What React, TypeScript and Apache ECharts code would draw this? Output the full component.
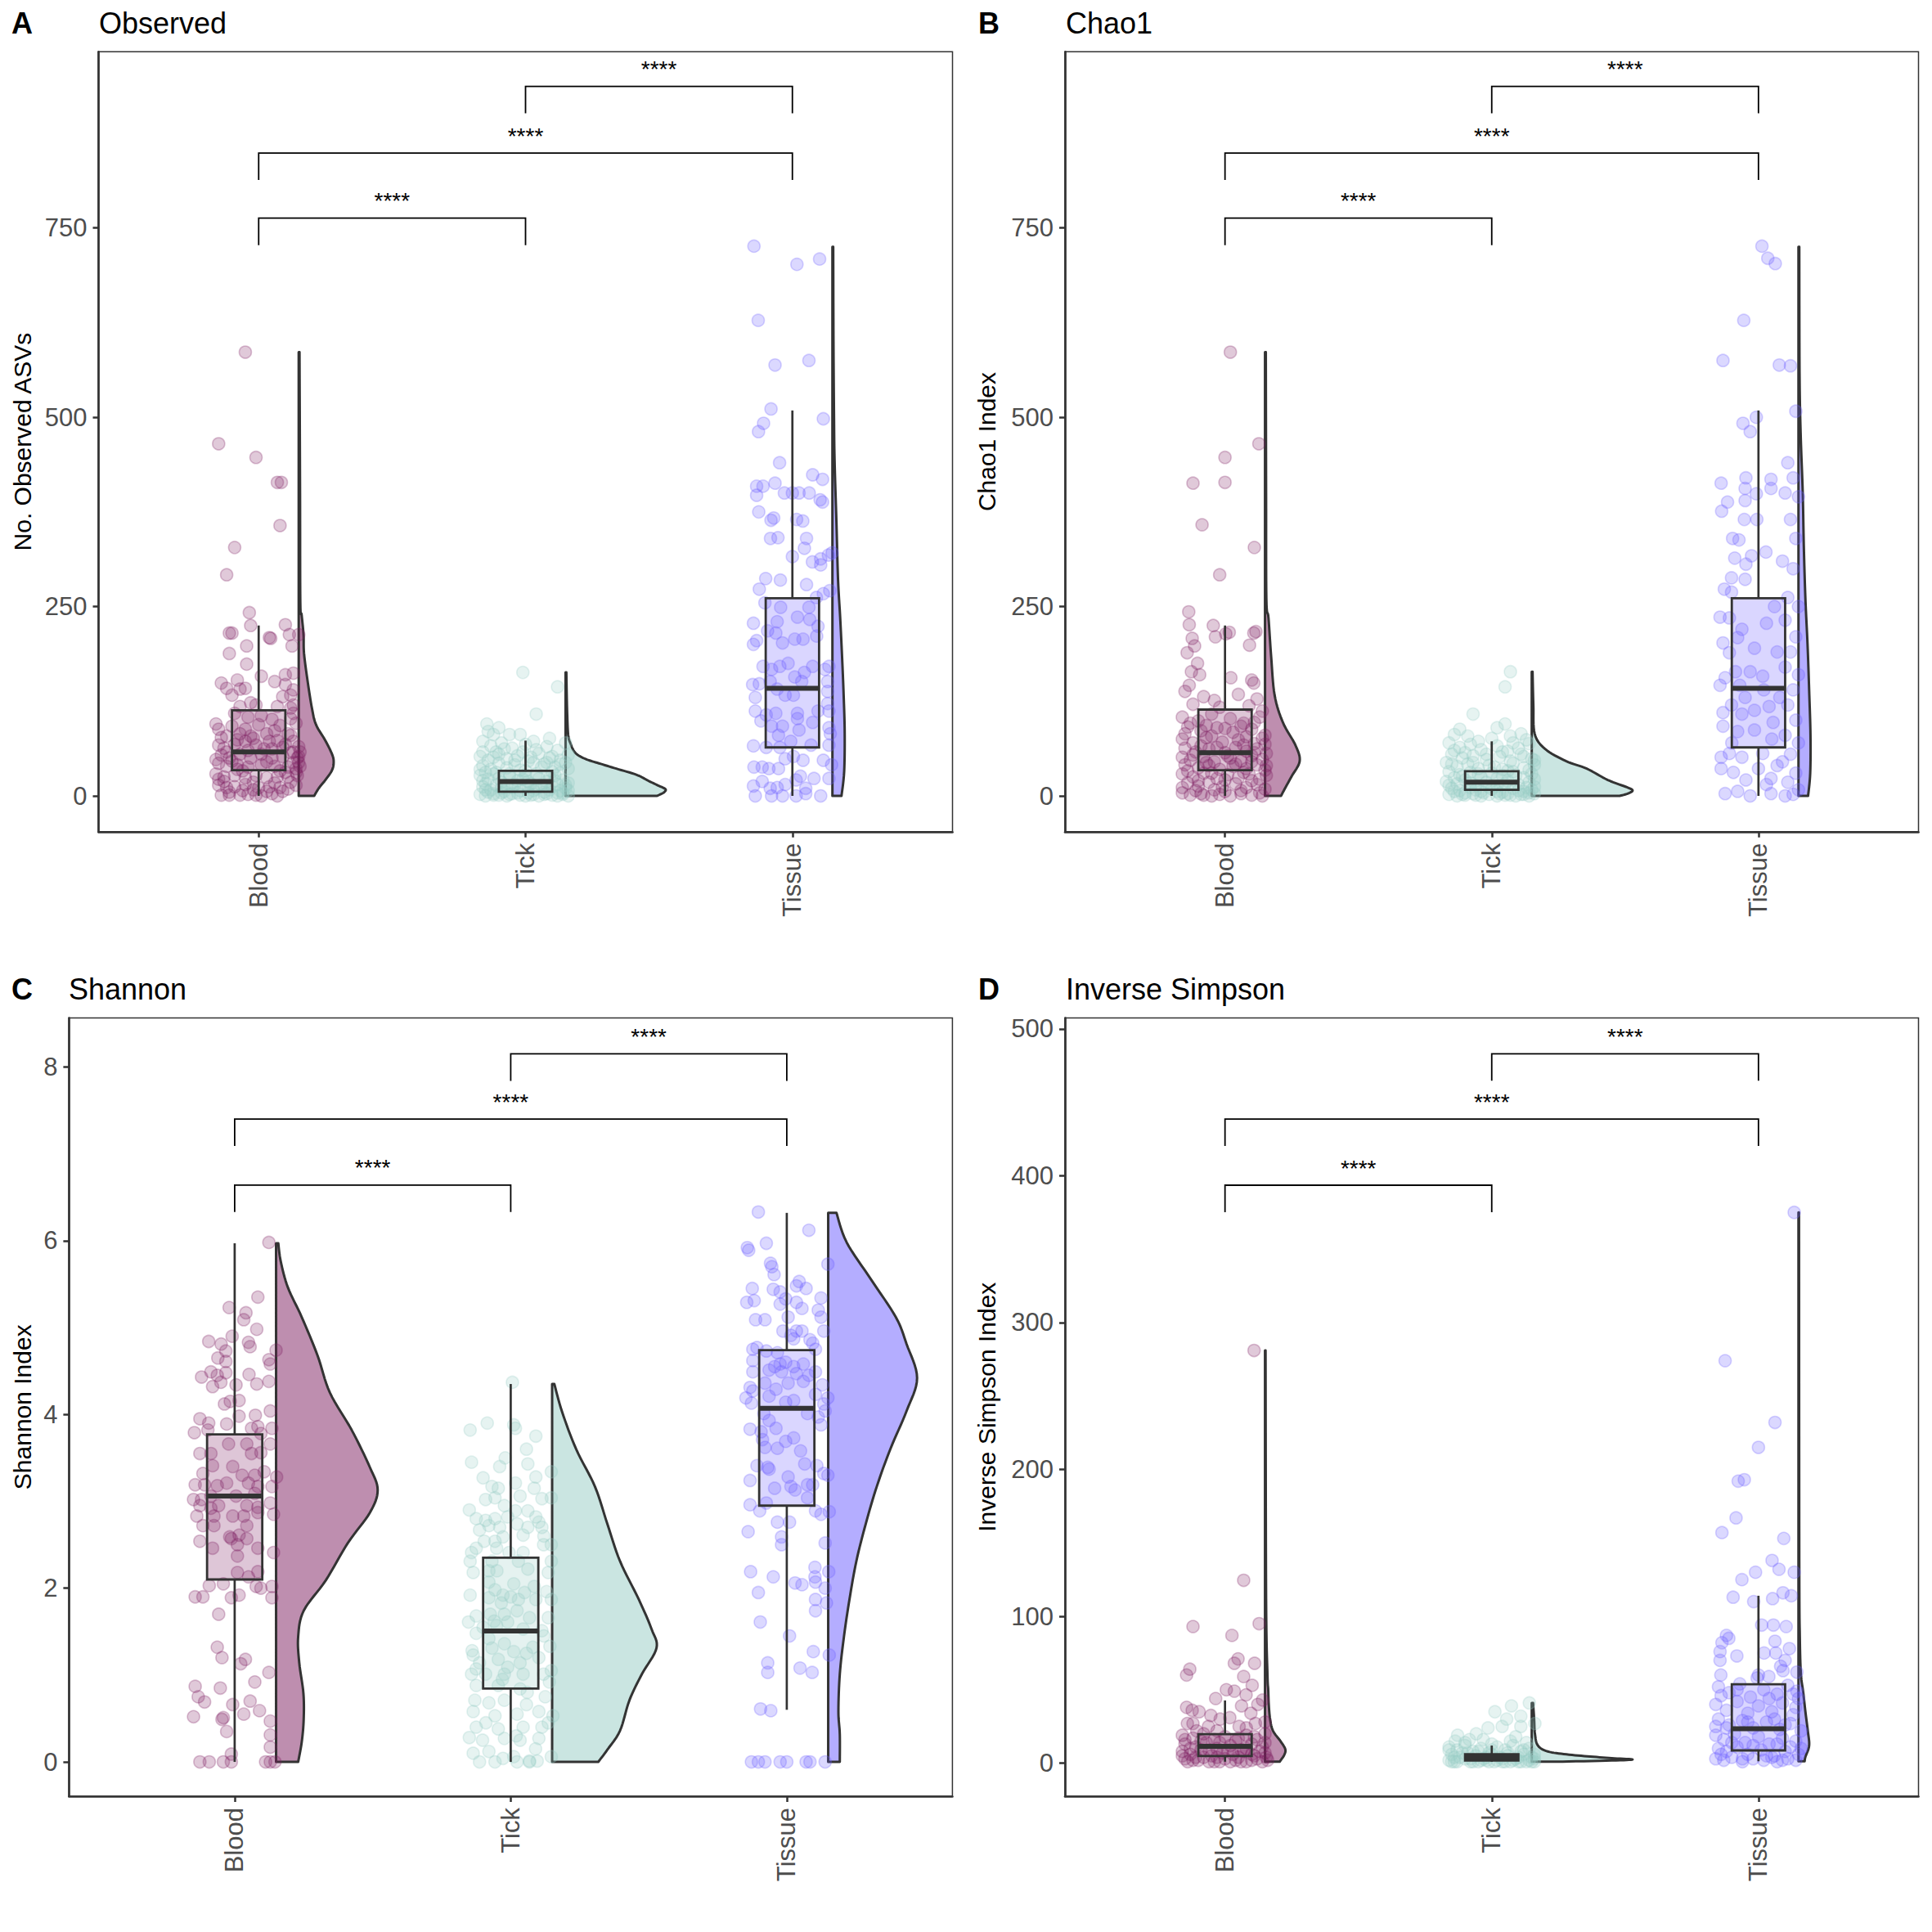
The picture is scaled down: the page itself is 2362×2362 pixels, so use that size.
import React, { useEffect, useRef } from "react";
import * as echarts from "echarts";

const FONT = "'Liberation Sans', Arial, Helvetica, sans-serif";
const CATEGORIES = ["Blood", "Tick", "Tissue"];
const GROUP_COLORS = [[125, 29, 96], [150, 204, 196], [106, 92, 255]];
const SIG = "****";

// ---------- Panel A: Observed ----------
const obsTicks = [0, 250, 500, 750];
const obsBlood = [
[-0.05,586],[-0.15,465],[-0.01,447],[0.07,414],[0.085,414],[0.08,357],[-0.09,328],[-0.12,292],[-0.035,242],[-0.03,225],[-0.11,215],[-0.10,215],[0.04,209],[0.045,208],[0.10,226],[0.115,213],[0.15,213],[0.125,198],[-0.045,198],[-0.11,188],[-0.045,174],
[0.01,158],[0.06,151],[0.10,160],[0.13,162],[-0.14,149],[-0.08,153],[-0.05,142],[-0.07,141],[-0.12,142],[-0.10,133],[0.10,147],[0.13,140],[0.12,133],[0.09,131],
[-0.07,118],[-0.03,123],[-0.01,120],[0.07,118],[0.13,120],[0.12,116],[-0.09,109],[-0.04,104],[0.01,106],[0.05,101],[0.12,102],[0.13,109],
[-0.15,88],[-0.12,79],[-0.07,82],[-0.03,79],[0.03,82],[0.08,93],[0.11,82],
[-0.15,67],[-0.13,63],[-0.09,68],[-0.05,72],[-0.01,67],[0.04,72],[0.07,73],[0.10,68],[0.13,72],[0.15,65],
[-0.14,54],[-0.11,50],[-0.07,55],[-0.03,50],[0.01,55],[0.05,50],[0.09,52],[0.12,57],[0.145,50],
[-0.15,43],[-0.12,39],[-0.08,41],[-0.04,38],[0.01,41],[0.06,39],[0.11,38],[0.14,36],[0.155,39],
[-0.16,29],[-0.13,25],[-0.09,27],[-0.05,24],[-0.01,27],[0.03,24],[0.07,25],[0.11,25],[0.145,27],
[-0.15,14],[-0.12,11],[-0.09,12],[-0.05,15],[0.0,11],[0.04,12],[0.08,11],[0.12,18],
[-0.14,1],[-0.11,1],[-0.07,1],[-0.04,2],[-0.01,1],[0.01,0],[0.05,3],[0.07,0],
[0.14,31],[0.15,44],[0.13,58],[-0.1,46],[-0.06,33],[0.02,62],[-0.13,19],[0.09,6],[-0.02,8],
[-0.16,95],[-0.1,92],[-0.05,88],[0.0,94],[0.06,86],[0.14,96],[-0.14,77],[-0.08,74],[-0.02,76],[0.05,62],[0.09,64],[-0.12,58],[-0.04,60],[0.03,45],[0.08,33],
[-0.08,35],[-0.15,22],[-0.02,18],[0.06,17],[0.1,31],[0.13,44],[0.15,52],[-0.11,5],[-0.06,7],[0.03,6],[0.11,9],[0.14,14],[-0.16,48],[0.12,80],[0.155,58]
];
const obsTick = [
[-0.01,163],[0.12,144],[0.04,108],[-0.145,95],[-0.10,90],[-0.12,81],[-0.06,81],[-0.02,81],
[-0.16,72],[-0.13,66],[-0.09,70],[-0.05,63],[0.0,68],[0.04,61],[0.08,65],[0.12,60],[0.15,70],[-0.11,58],
[-0.17,52],[-0.14,47],[-0.1,55],[-0.07,49],[-0.03,53],[0.01,46],[0.05,56],[0.09,50],[0.13,47],[0.16,54],[-0.01,58],
[-0.16,40],[-0.13,35],[-0.1,43],[-0.07,37],[-0.04,41],[0.0,33],[0.03,44],[0.06,38],[0.1,32],[0.13,42],[0.16,36],[-0.15,31],[0.08,44],
[-0.17,27],[-0.14,22],[-0.12,29],[-0.09,18],[-0.06,25],[-0.03,20],[0.0,28],[0.02,16],[0.05,23],[0.08,19],[0.11,27],[0.14,21],[0.16,17],[-0.15,16],[0.12,15],[-0.01,22],
[-0.16,12],[-0.13,8],[-0.11,14],[-0.08,6],[-0.05,11],[-0.02,7],[0.01,13],[0.04,9],[0.07,5],[0.1,12],[0.13,7],[0.15,10],[-0.14,5],[0.06,14],[-0.07,13],
[-0.17,2],[-0.15,0],[-0.12,3],[-0.1,1],[-0.07,0],[-0.05,3],[-0.02,1],[0.0,0],[0.03,2],[0.05,0],[0.08,3],[0.1,1],[0.12,0],[0.14,2],[0.16,0],[-0.09,4],[0.01,4],
[-0.16,58],[-0.12,51],[-0.04,47],[0.02,51],[0.07,42],[0.11,38],[0.15,44],[-0.17,35],[-0.11,31],[-0.06,29],[-0.02,34],[0.04,29],[0.09,24],[0.13,30],
[-0.16,20],[-0.1,23],[-0.04,15],[0.01,19],[0.07,13],[0.11,20],[0.15,14],[-0.15,8],[-0.09,10],[-0.03,4],[0.03,7],[0.09,8],[0.14,4],
[-0.12,1],[-0.06,2],[0.02,1],[0.07,2],[0.12,4],[0.16,7],[0.1,52],[-0.08,62],[0.03,72],[0.09,76],[-0.14,85]
];
const obsTissue = [
[-0.144,726],[0.017,702],[0.102,709],[-0.128,628],[-0.065,569],[0.062,575],[-0.08,511],[-0.108,492],[-0.127,481],[0.116,498],
[-0.048,440],[0.076,424],[0.113,418],[-0.134,409],[-0.11,409],[-0.134,397],[-0.065,413],[-0.03,400],[0.025,400],[0.063,400],[0,400],
[0.104,391],[0.113,388],[-0.126,375],[-0.08,364],[-0.07,367],[0.016,365],[0.039,363],[-0.082,340],[-0.054,341],[0.053,340],[0.045,327],[0,316],
[0.075,309],[0.106,313],[0.135,318],[0.149,321],[0.106,305],[-0.1,287],[-0.045,285],[0.053,279],[-0.124,273],[-0.103,255],[0.09,262],[0.116,267],[0.14,271],
[-0.044,249],[0.062,249],[-0.146,228],[-0.093,218],[-0.057,230],[0.019,236],[0.065,233],[0.096,224],[-0.146,200],[-0.134,205],
[-0.062,215],[-0.037,202],[0.009,207],[0.04,207],[0.091,211],
[-0.11,171],[-0.078,167],[-0.047,171],[-0.016,175],[0.009,157],[0.045,163],[0.076,171],[0.122,167],[0.137,171],
[-0.149,147],[-0.124,148],[-0.083,151],[-0.057,141],[-0.027,133],[0.004,133],[0.035,151],[0.132,151],[0.132,138],
[-0.139,130],[-0.139,112],[-0.098,107],[-0.062,109],[0.019,109],[0.019,102],[0.096,112],[0.137,112],[0.132,122],
[-0.118,99],[-0.078,92],[-0.052,80],[-0.037,92],[0.025,87],[0.076,97],[0.137,90],[0.142,82],
[-0.146,66],[-0.098,64],[-0.047,64],[-0.006,72],[0.07,67],[0.137,67],
[-0.144,38],[-0.113,38],[-0.088,36],[-0.052,36],[-0.027,49],[0.004,52],[0.04,47],[0.116,47],[0.147,41],
[-0.146,13],[-0.113,19],[-0.083,10],[-0.057,11],[-0.027,15],[0.014,21],[0.03,26],[0.05,10],[0.081,23],[0.137,23],
[-0.139,0],[-0.078,0],[-0.037,0],[0.014,0],[0.05,3],[0.106,0]
];
// box rows: [lower whisker, Q1, median, Q3, upper whisker]
const obsBox = [[0, 34, 58, 113, 225], [0, 5.5, 19, 33, 73], [0, 64, 142, 261, 509]];
// violin rows: [value, half-width in category units]
const obsViolin = [
  [[586,0.003],[400,0.005],[256,0.006],[239,0.011],[213,0.018],[188,0.02],[150,0.034],[115,0.05],[94,0.065],[73,0.1],[55,0.125],[45,0.131],[34,0.125],[21,0.1],[10,0.075],[0,0.058]],
  [[163,0.003],[140,0.004],[110,0.006],[80,0.01],[68,0.02],[60,0.03],[54,0.046],[48,0.08],[43,0.125],[36,0.19],[28,0.265],[20,0.31],[14,0.345],[9,0.374],[5,0.37],[2,0.355],[0,0.343]],
  [[725,0.003],[600,0.004],[500,0.006],[444,0.008],[362,0.015],[286,0.021],[236,0.029],[185,0.036],[134,0.042],[83,0.046],[32,0.044],[0,0.034]]
];
const obsBrackets = [[2, 3, 937], [1, 3, 849], [1, 2, 763]];

// ---------- Panel B: Chao1 ----------
const chaoTicks = [0, 250, 500, 750];
const chaoBlood = [
[0.02,586],[0.127,465],[0.0,447],[0.0,414],[-0.12,413],[-0.086,358],[0.11,328],[-0.02,292],[-0.136,243],[-0.134,226],[-0.044,225],[0.003,214],[0.016,216],[0.108,215],[0.116,217],[-0.036,210],[-0.123,208],[-0.142,189],[-0.114,198],[0.092,199],[-0.103,175],[-0.126,164],[-0.095,160],[-0.134,146],[0.022,156],[0.10,153],[0.108,149],
[-0.15,138],[-0.08,131],[-0.04,126],[0.05,134],[0.12,128],[-0.12,121],[-0.02,117],[0.09,119],[0.14,112],
[-0.16,104],[-0.1,99],[-0.05,108],[0.02,102],[0.07,96],[0.13,104],
[-0.14,91],[-0.09,86],[-0.03,90],[0.03,84],[0.1,88],[0.15,80],
[-0.16,75],[-0.12,70],[-0.07,77],[-0.01,71],[0.05,74],[0.11,69],[0.14,76],
[-0.15,63],[-0.11,58],[-0.06,62],[0.0,57],[0.04,64],[0.08,59],[0.12,62],[0.155,56],
[-0.16,51],[-0.13,47],[-0.08,52],[-0.04,45],[0.02,50],[0.06,46],[0.1,53],[0.14,48],
[-0.15,41],[-0.1,37],[-0.06,40],[-0.02,35],[0.03,39],[0.08,36],[0.12,41],[0.15,34],
[-0.16,29],[-0.12,25],[-0.08,30],[-0.03,23],[0.01,28],[0.05,24],[0.09,29],[0.13,22],[0.155,27],
[-0.14,17],[-0.1,13],[-0.06,18],[-0.01,12],[0.04,16],[0.08,11],[0.12,15],[0.15,9],
[-0.16,4],[-0.13,1],[-0.09,3],[-0.05,0],[-0.02,2],[0.02,0],[0.06,3],[0.1,1],[0.14,0],[-0.11,7],[0.0,6],
[-0.13,96],[-0.07,93],[0.0,89],[0.06,92],[0.11,97],[-0.15,82],[-0.05,79],[0.08,78],[-0.09,66],[-0.03,64],[0.07,67],[0.15,68],[-0.12,54],[0.01,53],[0.11,57],
[-0.07,44],[0.04,42],[0.1,45],[0.155,40],[-0.14,33],[-0.05,30],[0.07,31],[-0.1,20],[0.0,21],[0.1,20],[-0.16,11],[-0.04,8],[0.06,7],[0.13,4],[-0.08,1]
];
const chaoTick = [
[0.07,164],[0.05,144],[-0.07,108],[0.02,90],[0.05,95],[-0.14,81],[-0.09,79],[0.07,79],[0.11,82],[0.0,76],[-0.12,88],[0.13,74],
[-0.16,70],[-0.12,64],[-0.08,68],[-0.04,61],[0.02,66],[0.06,59],[0.1,63],[0.14,69],
[-0.15,55],[-0.11,50],[-0.07,53],[-0.02,48],[0.03,52],[0.07,46],[0.11,55],[0.15,49],
[-0.17,44],[-0.13,39],[-0.09,42],[-0.05,36],[-0.01,40],[0.04,35],[0.08,43],[0.12,37],[0.16,41],
[-0.16,32],[-0.12,28],[-0.08,31],[-0.04,25],[0.0,30],[0.04,27],[0.08,32],[0.12,24],[0.15,29],[-0.14,24],
[-0.17,19],[-0.13,16],[-0.1,21],[-0.06,14],[-0.02,18],[0.02,13],[0.06,20],[0.1,15],[0.14,18],[0.16,12],
[-0.15,10],[-0.12,7],[-0.08,11],[-0.04,6],[0.0,9],[0.04,5],[0.08,10],[0.12,6],[0.15,8],[-0.1,4],[0.06,3],
[-0.16,2],[-0.13,0],[-0.1,1],[-0.07,3],[-0.04,0],[-0.01,2],[0.02,0],[0.05,1],[0.09,0],[0.11,2],[0.14,0],[0.16,3],[-0.06,1],[0.03,3],
[-0.14,60],[-0.1,57],[-0.02,55],[0.04,58],[0.12,52],[0.16,47],[-0.15,42],[-0.07,44],[0.01,38],[0.06,33],[0.14,34],
[-0.11,26],[-0.05,29],[0.02,23],[0.09,27],[0.16,22],[-0.16,14],[-0.08,17],[-0.01,12],[0.05,16],[0.13,11],
[-0.14,6],[-0.06,8],[0.02,6],[0.1,7],[0.14,4],[-0.11,2],[-0.03,4],[0.07,1],[0.12,2],[0.08,70],[-0.05,72]
];
const chaoTissue = [
[0.013,726],[0.035,710],[0.063,703],[-0.055,628],[-0.133,575],[0.078,569],[-0.058,492],[-0.031,481],[-0.008,500],[-0.14,413],
[-0.116,388],[-0.138,376],[-0.047,420],[-0.05,406],[-0.008,399],[-0.05,390],[0.047,406],[0.047,418],[-0.053,365],[-0.006,365],
[-0.097,340],[-0.073,338],[-0.089,314],[-0.047,306],[0.028,322],[-0.026,317],[-0.101,288],[-0.05,286],[-0.128,273],[-0.101,269],
[-0.144,236],[-0.109,235],[-0.062,220],[-0.015,195],[-0.078,209],[-0.133,202],[-0.109,189],[-0.144,146],[-0.125,156],
[-0.086,164],[-0.031,164],[-0.07,146],[0.016,158],[-0.133,110],[-0.101,120],[-0.062,108],[-0.015,113],[0.04,118],
[-0.133,92],[-0.078,85],[-0.015,87],[0.055,97],[-0.14,51],[-0.109,56],[-0.062,51],[0.016,56],
[-0.14,36],[-0.094,31],[-0.047,21],[0,36],[0.047,23],[-0.125,3],[-0.078,6],[-0.031,0],[0.047,3],
[0.12,568],[0.14,508],[0.11,440],[0.13,420],[0.1,400],[0.15,395],[0.12,365],[0.14,340],[0.09,310],[0.13,300],[0.11,262],[0.15,250],
[0.1,232],[0.14,210],[0.12,190],[0.1,170],[0.15,160],[0.13,140],[0.11,120],[0.14,100],[0.1,80],[0.15,70],[0.12,55],[0.09,45],[0.14,30],[0.11,18],[0.15,8],[0.1,0],[0.13,2],
[0.06,250],[0.03,228],[0.07,190],[0.02,140],[0.08,130],[0.05,75],[0.07,40],[0.03,15],[-0.1,70],[-0.05,130]
];
const chaoBox = [[0, 34, 57, 114, 225], [0, 8, 18, 32.5, 72], [0, 64, 142, 261, 509]];
const chaoViolin = [
  [[586,0.003],[400,0.004],[260,0.005],[235,0.013],[184,0.023],[133,0.036],[97,0.067],[67,0.114],[46,0.13],[26,0.1],[10,0.075],[0,0.06]],
  [[164,0.003],[120,0.006],[82,0.011],[62,0.05],[46,0.128],[36,0.206],[21,0.285],[11,0.36],[7,0.378],[3,0.36],[0,0.33]],
  [[725,0.003],[560,0.004],[480,0.008],[400,0.016],[330,0.02],[260,0.026],[200,0.034],[140,0.04],[80,0.045],[30,0.044],[0,0.036]]
];
const chaoBrackets = [[2, 3, 937], [1, 3, 849], [1, 2, 763]];

// ---------- Panel C: Shannon ----------
const shanTicks = [0, 2, 4, 6, 8];
const shanBlood = [
[0.124,5.98],[0.084,5.35],[-0.02,5.23],[0.041,5.17],[0.033,5.09],[0.08,4.98],[-0.009,4.90],[-0.094,4.84],[-0.049,4.81],[0.05,4.83],[0.056,4.78],
[-0.032,4.73],[-0.061,4.65],[-0.032,4.61],[0.124,4.63],[0.129,4.58],[0.15,4.74],[-0.12,4.43],[-0.086,4.49],[-0.063,4.45],[-0.032,4.48],
[-0.08,4.32],[-0.05,4.37],[0.052,4.46],[0.08,4.35],[0.124,4.38],[0.005,4.34],[-0.037,4.12],[-0.016,4.15],[0.016,4.16],[0.129,4.04],[0.075,3.99],
[-0.126,3.95],[-0.094,3.90],[-0.029,3.89],[0.016,3.98],[-0.146,3.79],[-0.097,3.82],[0.061,3.84],[0.084,3.86],[0.135,3.84],[0.095,3.78],
[-0.022,3.66],[0.044,3.66],[0.129,3.66],[-0.126,3.55],[-0.086,3.55],[0.061,3.55],[0.095,3.56],
[-0.115,3.32],[-0.08,3.41],[-0.007,3.40],[0.027,3.30],[0.073,3.30],[0.107,3.34],[0.152,3.28],
[-0.143,3.19],[-0.109,3.19],[-0.063,3.18],[-0.029,3.21],[0.05,3.21],[0.084,3.17],[0.135,3.17],
[-0.149,3.02],[-0.12,3.02],[-0.086,3.06],[0.005,3.06],[0.073,3.09],[0.129,2.98],
[-0.126,2.95],[-0.086,2.92],[-0.058,2.95],[0.044,2.95],[0.084,2.93],
[-0.137,2.83],[-0.075,2.83],[-0.007,2.83],[0.033,2.83],[0.084,2.87],[0.141,2.85],
[-0.115,2.72],[-0.075,2.72],[0.044,2.72],[-0.018,2.59],[-0.012,2.57],[0.016,2.61],[0.044,2.57],
[-0.126,2.54],[-0.08,2.46],[0.01,2.50],[0.084,2.46],[0.01,2.37],[0.141,2.41],
[0.01,2.18],[0.084,2.19],[0.05,2.13],[-0.092,2.03],[-0.041,2.05],[0.078,2.02],[0.095,2.0],[0.135,2.02],[0.135,1.89],
[-0.143,1.90],[-0.115,1.90],[-0.012,1.89],[0.016,1.92],[-0.058,1.70],
[-0.063,1.32],[-0.046,1.20],[0.039,1.18],[0.022,1.13],[0.124,1.03],[0.073,0.92],
[-0.143,0.87],[-0.132,0.75],[-0.052,0.85],[-0.109,0.69],[0.056,0.70],[-0.007,0.66],
[-0.046,0.49],[-0.041,0.51],[0.033,0.55],[0.09,0.59],[-0.149,0.52],[0.129,0.47],
[-0.029,0.35],[0.129,0.31],[0.129,0.17],[-0.012,0.09],
[-0.126,0],[-0.092,0],[-0.041,0],[-0.012,0],[0.112,0],[0.129,0],[0.146,0]
];
const shanTick = [
[0.006,4.37],[-0.085,3.90],[0.011,3.88],[0.017,3.84],[0.091,3.75],[-0.147,3.82],[0.057,3.60],[-0.142,3.45],[-0.04,3.40],[0.062,3.43],
[-0.1,3.27],[0.091,3.28],[0.147,3.34],[-0.068,3.17],[-0.045,3.15],[0.017,3.21],[0.085,3.15],[-0.091,3.02],[-0.057,3.04],[0.034,3.06],[0.113,3.03],
[-0.023,2.95],[0.017,2.89],[0.062,2.89],[0.147,3.04],[-0.125,2.80],[-0.091,2.78],[-0.057,2.80],[-0.011,2.82],[0.091,2.82],[0.102,2.76],
[-0.113,2.67],[-0.079,2.72],[-0.04,2.70],[0.023,2.74],[0.062,2.70],[0.113,2.70],[-0.096,2.54],[-0.057,2.54],[-0.028,2.59],[0.045,2.61],[0.119,2.50],[0.147,2.50],
[-0.142,2.41],[-0.125,2.46],[-0.051,2.46],[-0.006,2.41],[0.045,2.41],[-0.147,2.31],[-0.136,2.18],[-0.068,2.31],[0.028,2.31],[0.147,2.31],
[-0.079,2.20],[0.062,2.22],[0.136,2.18],[-0.079,2.07],[-0.057,1.98],[-0.028,1.92],[0.011,2.05],[0.085,2.02],[0.13,1.96],
[-0.147,1.92],[-0.079,1.89],[-0.034,1.83],[0.028,1.87],[0.091,1.87],[0.147,1.87],
[-0.125,1.68],[-0.074,1.70],[-0.023,1.70],[0.023,1.74],[0.068,1.66],[0.136,1.66],
[-0.153,1.61],[-0.125,1.48],[-0.051,1.57],[-0.011,1.61],[0.045,1.53],[0.113,1.51],
[-0.079,1.42],[-0.068,1.31],[-0.023,1.36],[0.011,1.27],[0.057,1.25],[0.142,1.33],
[-0.136,1.23],[-0.113,1.14],[-0.045,1.18],[-0.011,1.09],[0.034,1.14],[0.102,1.20],
[-0.142,1.01],[-0.125,1.07],[-0.091,1.01],[-0.023,1.01],[0.045,1.01],[0.119,1.01],[0.147,1.05],
[-0.125,0.88],[-0.045,0.88],[0.034,0.84],[-0.13,0.71],[-0.079,0.68],[-0.023,0.71],[0.057,0.66],[0.125,0.75],
[-0.136,0.58],[-0.057,0.53],[0.023,0.55],[0.102,0.58],[0.153,0.53],
[-0.125,0.40],[-0.045,0.38],[0.045,0.40],[0.113,0.40],[0.136,0.45],
[-0.102,0.25],[-0.023,0.27],[0.034,0.25],[0.102,0.27],
[-0.136,0.10],[-0.079,0.12],[-0.028,0.04],[0.011,0.06],[0.068,0.01],[0.096,0.01],[0.147,0.06],
[-0.057,0],[0.023,0],[0.068,0],[-0.113,0],
[-0.15,2.9],[-0.05,2.2],[0.05,1.95],[0.12,1.45],[-0.1,1.55],[0.0,1.9],[-0.06,1.62],[0.08,1.32],[-0.14,1.28],[0.14,0.92],
[-0.03,0.95],[0.06,0.8],[-0.09,0.45],[0.02,0.3],[0.09,0.15],[-0.15,0.28],[0.12,2.6],[-0.02,3.5]
];
const shanTissue = [
[-0.103,6.33],[0.08,6.12],[-0.074,5.97],[-0.143,5.92],[-0.138,5.89],[0.149,5.73],[-0.059,5.74],[-0.054,5.70],[-0.046,5.61],
[-0.125,5.45],[-0.049,5.44],[-0.024,5.41],[0.035,5.48],[0.045,5.53],[0.07,5.45],
[-0.145,5.29],[-0.118,5.31],[-0.024,5.27],[-0.004,5.33],[0.035,5.29],[0.055,5.22],[0.124,5.34],
[-0.113,5.09],[-0.079,5.09],[0.005,5.12],[0.114,5.20],[0.124,5.12],
[-0.014,4.96],[0.035,4.96],[0.055,4.96],[0.134,4.96],[0.015,4.91],[0.025,4.87],[0.084,4.86],[0.094,4.82],
[-0.123,4.75],[-0.108,4.77],[-0.074,4.73],[-0.034,4.71],[0.104,4.75],
[-0.123,4.62],[-0.044,4.55],[-0.024,4.58],[-0.004,4.60],[0.025,4.55],[0.06,4.58],
[-0.123,4.49],[-0.064,4.51],[-0.019,4.49],[0.035,4.47],[0.08,4.45],[0.104,4.49],
[-0.133,4.31],[-0.123,4.27],[-0.079,4.36],[-0.039,4.29],[0.005,4.36],[0.06,4.38],[0.129,4.34],
[-0.148,4.19],[-0.128,4.13],[-0.064,4.21],[-0.004,4.14],[0.025,4.16],[0.104,4.23],[0.149,4.19],[0.134,4.12],
[-0.083,4.01],[-0.064,3.93],[-0.039,3.84],[0.075,4.01],[0.114,3.97],[0.139,4.04],[0.124,3.88],
[-0.133,3.83],[-0.093,3.80],[-0.004,3.69],[0.025,3.73],[-0.034,3.61],[-0.088,3.71],[-0.079,3.62],
[0.05,3.58],[0.065,3.43],[-0.108,3.41],[-0.069,3.39],[-0.064,3.37],[0.109,3.41],[0.134,3.32],[0.149,3.30],
[-0.133,3.24],[0.005,3.28],[0.015,3.17],[0.03,3.13],[0.075,3.19],[0.094,3.19],[-0.044,3.15],
[-0.133,2.96],[-0.098,2.89],[-0.074,2.98],[0.075,3.04],[0.104,2.89],[0.124,2.85],[0.154,2.88],
[-0.034,2.76],[0.01,2.76],[-0.14,2.65],[-0.019,2.59],[-0.019,2.50],[0.139,2.52],
[0.102,2.24],[0.102,2.13],[0.104,2.07],[0.139,2.0],[0.104,1.87],[0.104,1.74],[0.144,1.83],
[-0.131,2.19],[-0.049,2.13],[0.03,2.06],[0.055,2.04],[0.152,2.19],[-0.103,1.95],[-0.096,1.61],[0.01,1.45],
[0.096,1.27],[0.154,1.23],[-0.069,1.14],[-0.069,1.03],[0.048,1.08],[0.092,1.03],[-0.095,0.61],[-0.058,0.59],
[-0.128,0],[-0.103,0],[-0.079,0],[-0.024,0],[0,0],[0.07,0],[0.084,0],[0.139,0]
];
const shanBox = [[0, 2.10, 3.06, 3.77, 5.97], [0, 0.845, 1.506, 2.35, 4.35], [0.60, 2.95, 4.07, 4.74, 6.32]];
const shanViolin = [
  [[5.97,0.008],[5.76,0.017],[5.46,0.043],[5.12,0.093],[4.68,0.15],[4.25,0.195],[3.82,0.274],[3.39,0.34],[3.13,0.368],[2.87,0.34],[2.52,0.26],[2.09,0.18],[1.74,0.1],[1.44,0.08],[1.14,0.084],[0.79,0.099],[0.49,0.1],[0.23,0.093],[0,0.08]],
  [[4.35,0.008],[4.03,0.036],[3.6,0.087],[3.17,0.155],[2.74,0.2],[2.31,0.246],[1.87,0.314],[1.53,0.36],[1.31,0.378],[1.01,0.325],[0.71,0.28],[0.36,0.246],[0.14,0.2],[0,0.167]],
  [[6.32,0.03],[5.98,0.067],[5.55,0.156],[5.12,0.245],[4.81,0.284],[4.42,0.322],[4.04,0.284],[3.6,0.225],[3.17,0.176],[2.74,0.136],[2.31,0.102],[1.87,0.077],[1.44,0.057],[1.01,0.042],[0.58,0.037],[0.32,0.042],[0,0.042]]
];
const shanBrackets = [[2, 3, 8.15], [1, 3, 7.4], [1, 2, 6.64]];

// ---------- Panel D: Inverse Simpson ----------
const invTicks = [0, 100, 200, 300, 400, 500];
const invBlood = [
[0.109,281],[0.07,124.5],[-0.12,93],[0.128,95],[0.026,87],[0.049,71],[0.035,68],[0.111,68],[-0.132,64],[-0.144,60],[0.07,59],[0.102,53],
[0.005,50],[0.035,49],[-0.035,44],[0.079,46.5],[0.141,43],[0.123,40],[-0.144,38],[-0.123,36],[-0.097,35],[-0.053,32.5],[-0.018,30],
[0.053,25],[0.062,39],[0.097,34],[0.114,27],[-0.141,27],[-0.106,22],[-0.062,25],[0.018,31],
[-0.16,19],[-0.12,17],[-0.08,20],[-0.04,16],[0.0,18],[0.04,15],[0.08,19],[0.12,16],[0.15,20],
[-0.15,13],[-0.11,11],[-0.07,14],[-0.03,10],[0.02,12],[0.06,9],[0.1,13],[0.14,11],
[-0.16,8],[-0.13,6],[-0.09,9],[-0.05,5],[-0.01,7],[0.03,6],[0.07,8],[0.11,5],[0.15,7],
[-0.15,3],[-0.12,2],[-0.08,4],[-0.04,1],[0.0,3],[0.04,2],[0.08,1],[0.12,3],[0.16,2],
[-0.14,1],[-0.1,2],[-0.06,1],[-0.02,1],[0.02,1],[0.06,1],[0.1,2],[0.14,1],
[-0.15,16],[-0.09,15],[-0.02,14],[0.05,17],[0.11,18],[0.15,14],[-0.13,10],[-0.06,9],[0.01,9],[0.08,10],[0.13,8],
[-0.16,5],[-0.11,4],[-0.03,4],[0.05,4],[0.1,6],[0.155,4],[-0.12,27],[-0.03,22],[0.08,24],[0.15,28]
];
const invTick = [
[0.141,41],[0.012,35],[-0.128,19],[0.074,39],[0.109,32],[0.056,30],[0.109,25],[0.09,18],[0.039,25],[-0.014,24],[-0.058,20],[-0.084,16],[-0.032,16],[-0.137,15],[0.162,27],
[-0.16,11],[-0.13,9],[-0.1,12],[-0.07,8],[-0.04,10],[-0.01,7],[0.02,11],[0.05,9],[0.08,12],[0.11,8],[0.14,10],[0.16,6],
[-0.15,6],[-0.12,4],[-0.09,7],[-0.06,5],[-0.03,3],[0.0,6],[0.03,4],[0.06,5],[0.09,3],[0.12,6],[0.15,4],
[-0.16,2],[-0.13,1],[-0.1,3],[-0.07,1],[-0.04,2],[-0.01,1],[0.02,2],[0.05,1],[0.08,2],[0.11,1],[0.14,2],[0.16,1],
[-0.14,1],[-0.08,1],[-0.02,2],[0.04,1],[0.1,1],[0.13,1],
[-0.16,9],[-0.11,7],[-0.05,8],[0.0,9],[0.06,7],[0.12,9],[-0.14,4],[-0.08,3],[-0.02,4],[0.04,3],[0.1,4],[0.16,3],
[-0.15,1],[-0.05,1],[0.01,1],[0.07,1],[0.15,1],[-0.1,14],[0.0,13],[0.07,15],[0.13,14]
];
const invTissue = [
[0.134,375],[-0.125,274],[0.062,232],[0.0,215],[-0.076,192],[-0.053,193],[-0.084,167],[-0.137,157],[0.095,153],[0.051,138],[0.077,132],
[-0.011,130],[-0.062,125],[0.134,130],[-0.095,113],[-0.018,110],[0.053,112],[0.092,116],[0.123,114],[0.012,94],[0.056,94],[0.104,93],
[-0.12,87],[-0.111,85],[-0.137,82],[-0.144,76],[-0.144,70],[-0.081,73],[0.062,83],[0.116,78],[0.021,75],[0.065,75],
[-0.141,60],[0.083,66],[0.092,63],[0.144,62],[0.039,59],[-0.005,58],[0.144,49],
[-0.15,52],[-0.11,48],[-0.07,54],[-0.03,45],[0.02,50],[0.07,47],[0.11,53],[0.15,44],
[-0.16,40],[-0.12,36],[-0.08,42],[-0.04,34],[0.0,39],[0.05,35],[0.09,41],[0.13,33],
[-0.15,30],[-0.11,26],[-0.06,29],[-0.02,24],[0.03,28],[0.08,23],[0.12,27],[0.16,22],
[-0.16,19],[-0.13,16],[-0.09,20],[-0.05,14],[0.0,18],[0.04,13],[0.09,17],[0.14,15],
[-0.15,10],[-0.12,8],[-0.08,11],[-0.04,6],[0.01,9],[0.06,5],[0.1,8],[0.15,6],
[-0.16,3],[-0.13,2],[-0.1,4],[-0.06,1],[-0.02,3],[0.02,2],[0.07,1],[0.11,3],[0.14,2],[0.05,4],
[-0.14,46],[-0.08,50],[0.04,44],[0.13,47],[-0.12,24],[-0.04,28],[0.06,30],[0.1,26],[-0.1,14],[-0.02,12],[0.07,13],
[0.12,11],[-0.14,6],[-0.06,3],[0.03,5],[0.09,2],[0.16,10],[-0.16,25],[0.14,38],[0.0,60],[0.1,70]
];
const invBox = [[1, 4.9, 11.5, 19.7, 42.7], [1, 1.8, 3.8, 6.1, 12], [1.3, 8.7, 23.5, 53.7, 114]];
const invViolin = [
  [[281,0.002],[112,0.004],[61,0.009],[50,0.012],[40,0.014],[30,0.019],[22,0.03],[15,0.058],[9.5,0.076],[5.6,0.072],[1.8,0.058],[1,0.055]],
  [[41,0.005],[30,0.009],[20,0.012],[12,0.023],[8,0.06],[6,0.13],[4.5,0.22],[3.3,0.31],[2.5,0.378],[1.8,0.3],[1,0.1]],
  [[375,0.002],[137,0.003],[86,0.005],[61,0.009],[48,0.018],[35,0.026],[22,0.035],[12,0.04],[4.3,0.026],[1.3,0.023]]
];
const invBrackets = [[2, 3, 483], [1, 3, 438.6], [1, 2, 393.5]];

// ---------- layout (pixels) ----------
const PANELS = [
  { letter: "A", title: "Observed", ytitle: "No. Observed ASVs", left: 120.5, top: 63.3, width: 1044, height: 953.5, ymin: -47.3, ymax: 982.7,
    letterX: 14, titleX: 121, titleY: 28, ytitleX: 27,
    ticks: obsTicks, pts: [obsBlood, obsTick, obsTissue], box: obsBox, violin: obsViolin, brackets: obsBrackets },
  { letter: "B", title: "Chao1", ytitle: "Chao1 Index", left: 1302, top: 63.3, width: 1043.5, height: 953.5, ymin: -47.3, ymax: 982.7,
    letterX: 1196, titleX: 1303, titleY: 28, ytitleX: 1206,
    ticks: chaoTicks, pts: [chaoBlood, chaoTick, chaoTissue], box: chaoBox, violin: chaoViolin, brackets: chaoBrackets },
  { letter: "C", title: "Shannon", ytitle: "Shannon Index", left: 84.4, top: 1244.5, width: 1080, height: 951.5, ymin: -0.395, ymax: 8.564,
    letterX: 14, titleX: 84, titleY: 1209, ytitleX: 27,
    ticks: shanTicks, pts: [shanBlood, shanTick, shanTissue], box: shanBox, violin: shanViolin, brackets: shanBrackets },
  { letter: "D", title: "Inverse Simpson", ytitle: "Inverse Simpson Index", left: 1302, top: 1244.5, width: 1043.5, height: 951.5, ymin: -22.5, ymax: 507.4,
    letterX: 1196, titleX: 1303, titleY: 1209, ytitleX: 1206,
    ticks: invTicks, pts: [invBlood, invTick, invTissue], box: invBox, violin: invViolin, brackets: invBrackets },
];

const VIOLIN_OFFSET = 0.15;
const BOX_HALF = 0.1;
const LINE = "#333333";

const rgba = (c: number[], a: number) => `rgba(${c[0]},${c[1]},${c[2]},${a})`;

function spline(pts: number[][], steps: number) {
  if (pts.length < 3) return pts;
  const out: number[][] = [];
  for (let i = 0; i < pts.length - 1; i++) {
    const p0 = pts[Math.max(i - 1, 0)], p1 = pts[i], p2 = pts[i + 1], p3 = pts[Math.min(i + 2, pts.length - 1)];
    for (let s = 0; s < steps; s++) {
      const t = s / steps, t2 = t * t, t3 = t2 * t;
      const f = (k: number) => 0.5 * (2 * p1[k] + (-p0[k] + p2[k]) * t + (2 * p0[k] - 5 * p1[k] + 4 * p2[k] - p3[k]) * t2 + (-p0[k] + 3 * p1[k] - 3 * p2[k] + p3[k]) * t3);
      out.push([f(0), f(1)]);
    }
  }
  out.push(pts[pts.length - 1]);
  return out;
}

function buildOption() {
  const grid: any[] = [], xAxis: any[] = [], yAxis: any[] = [], series: any[] = [], elements: any[] = [];
  PANELS.forEach((p, i) => {
    grid.push({ left: p.left, top: p.top, width: p.width, height: p.height, show: true, borderColor: LINE, borderWidth: 1.5, backgroundColor: "transparent", containLabel: false });
    xAxis.push({
      type: "value", gridIndex: i, min: 0.4, max: 3.6,
      axisLine: { show: true, onZero: false, lineStyle: { color: LINE, width: 2.7 } },
      axisTick: { show: true, customValues: [1, 2, 3], length: 7, lineStyle: { color: LINE, width: 2.5 } },
      axisLabel: { show: true, customValues: [1, 2, 3], formatter: (v: number) => CATEGORIES[Math.round(v) - 1] || "", rotate: 90, fontSize: 31, color: "#4D4D4D", margin: 14, fontFamily: FONT },
      splitLine: { show: false },
    });
    yAxis.push({
      type: "value", gridIndex: i, min: p.ymin, max: p.ymax,
      axisLine: { show: true, onZero: false, lineStyle: { color: LINE, width: 2.7 } },
      axisTick: { show: true, customValues: p.ticks, length: 7, lineStyle: { color: LINE, width: 2.5 } },
      axisLabel: { show: true, customValues: p.ticks, fontSize: 31, color: "#4D4D4D", margin: 14, fontFamily: FONT },
      splitLine: { show: false },
    });

    // half violins
    const violins = p.violin;
    series.push({
      type: "custom", xAxisIndex: i, yAxisIndex: i, z: 2, silent: true, clip: false,
      data: [1, 2, 3].map((c, gi) => [c, violins[gi][0][0]]),
      encode: { x: 0, y: 1 },
      renderItem: (params: any, api: any) => {
        const gi = params.dataIndex;
        const cat = api.value(0);
        const prof = violins[gi];
        const x0v = cat + VIOLIN_OFFSET;
        const x0 = api.coord([x0v, 0])[0];
        const right = prof.map(([v, w]: number[]) => api.coord([x0v + w, v]));
        const smooth = spline(right, 8).map(([x, y]) => [Math.max(x, x0), y]);
        const top = api.coord([x0v, prof[0][0]]);
        const bot = api.coord([x0v, prof[prof.length - 1][0]]);
        return {
          type: "polygon",
          shape: { points: [top, ...smooth, bot] },
          style: { fill: rgba(GROUP_COLORS[gi], 0.5), stroke: LINE, lineWidth: 3, lineJoin: "round" },
        };
      },
    });

    // jittered points
    p.pts.forEach((pts: number[][], gi: number) => {
      series.push({
        type: "scatter", xAxisIndex: i, yAxisIndex: i, z: 3, silent: true,
        symbol: "circle", symbolSize: 15,
        itemStyle: { color: rgba(GROUP_COLORS[gi], 0.3), borderColor: rgba(GROUP_COLORS[gi], 0.35), borderWidth: 1.6 },
        data: pts.map(([o, v]) => [gi + 1 + o, v]),
      });
    });

    // boxplots
    series.push({
      type: "custom", xAxisIndex: i, yAxisIndex: i, z: 4, silent: true, clip: false,
      data: p.box.map((b: number[], gi: number) => [gi + 1, ...b]),
      encode: { x: 0, y: [1, 2, 3, 4, 5] },
      renderItem: (params: any, api: any) => {
        const gi = params.dataIndex;
        const c = api.value(0);
        const lo = api.coord([c, api.value(1)]);
        const q1 = api.coord([c, api.value(2)]);
        const md = api.coord([c, api.value(3)]);
        const q3 = api.coord([c, api.value(4)]);
        const hi = api.coord([c, api.value(5)]);
        const xl = api.coord([c - BOX_HALF, 0])[0];
        const xr = api.coord([c + BOX_HALF, 0])[0];
        return {
          type: "group",
          children: [
            { type: "line", shape: { x1: hi[0], y1: hi[1], x2: q3[0], y2: q3[1] }, style: { stroke: LINE, lineWidth: 2.7 } },
            { type: "line", shape: { x1: q1[0], y1: q1[1], x2: lo[0], y2: lo[1] }, style: { stroke: LINE, lineWidth: 2.7 } },
            { type: "rect", shape: { x: xl, y: q3[1], width: xr - xl, height: q1[1] - q3[1] }, style: { fill: rgba(GROUP_COLORS[gi], 0.25), stroke: LINE, lineWidth: 2.8 } },
            { type: "line", shape: { x1: xl, y1: md[1], x2: xr, y2: md[1] }, style: { stroke: LINE, lineWidth: 6 } },
          ],
        };
      },
    });

    // significance brackets
    series.push({
      type: "custom", xAxisIndex: i, yAxisIndex: i, z: 5, silent: true, clip: false,
      data: p.brackets,
      encode: { x: [0, 1], y: 2 },
      renderItem: (params: any, api: any) => {
        const a = api.coord([api.value(0), api.value(2)]);
        const b = api.coord([api.value(1), api.value(2)]);
        const tip = 33;
        return {
          type: "group",
          children: [
            { type: "polyline", shape: { points: [[a[0], a[1] + tip], a, b, [b[0], b[1] + tip]] }, style: { stroke: "#000", lineWidth: 1.8, fill: "none" } },
            { type: "text", style: { text: SIG, x: (a[0] + b[0]) / 2, y: a[1] - 21, align: "center", verticalAlign: "middle", fontSize: 28, fontFamily: FONT, fill: "#000" } },
          ],
        };
      },
    });

    elements.push(
      { type: "text", x: p.letterX, y: p.titleY, style: { text: p.letter, fontSize: 36, fontWeight: "bold", fontFamily: FONT, fill: "#000", align: "left", verticalAlign: "middle" } },
      { type: "text", x: p.titleX, y: p.titleY, style: { text: p.title, fontSize: 36, fontFamily: FONT, fill: "#000", align: "left", verticalAlign: "middle" } },
      { type: "text", x: p.ytitleX, y: p.top + p.height / 2, rotation: Math.PI / 2, style: { text: p.ytitle, fontSize: 30, fontFamily: FONT, fill: "#000", align: "center", verticalAlign: "middle" } },
    );
  });

  return {
    animation: false,
    backgroundColor: "#ffffff",
    textStyle: { fontFamily: FONT },
    grid, xAxis, yAxis, series,
    graphic: { elements },
  };
}

export default function App() {
  const ref = useRef<HTMLDivElement>(null);
  useEffect(() => {
    document.body.style.margin = "0";
    const chart = echarts.init(ref.current as HTMLDivElement, null, { renderer: "svg", width: 2362, height: 2362 });
    chart.setOption(buildOption() as any);
    return () => chart.dispose();
  }, []);
  return <div ref={ref} style={{ width: 2362, height: 2362, background: "#fff" }} />;
}
